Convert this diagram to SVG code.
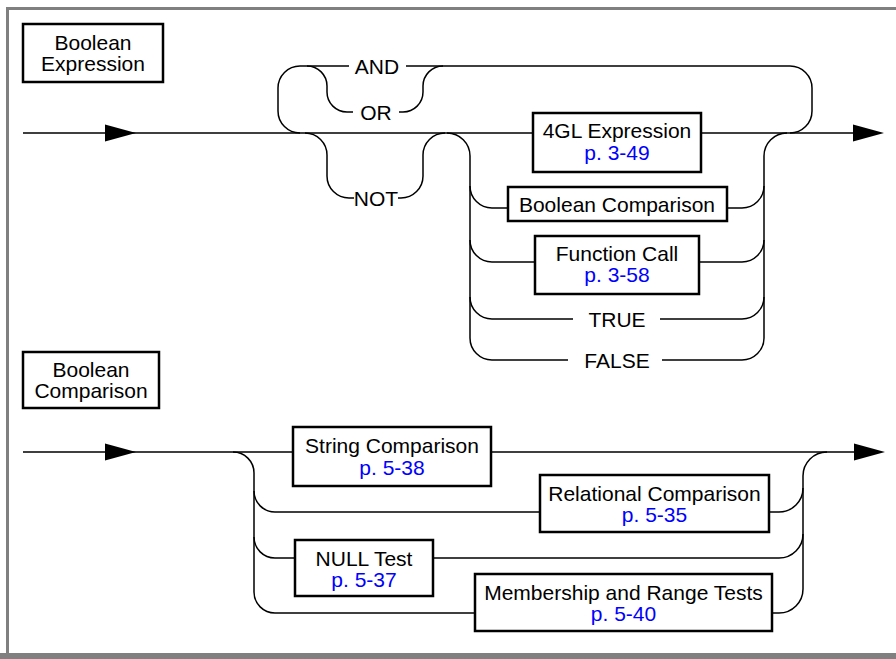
<svg xmlns="http://www.w3.org/2000/svg" width="896" height="659" viewBox="0 0 896 659">
  <style>
    .rail { fill: none; stroke: #000; stroke-width: 1.5; }
    .box { fill: #fff; stroke: #000; stroke-width: 2.5; }
    .t { font-family: "Liberation Sans", Arial, sans-serif; font-size: 21px; fill: #000; text-anchor: middle; }
    .ref { fill: #0000ff; }
    .frame { fill: none; stroke: #808080; stroke-width: 3; }
  </style>
  <defs>
    <path id="arrowhead" d="M 0 -8.5 L 31 0 L 0 8.5 Z" fill="#000"/>
  </defs>

  <!-- page frame -->
  <rect width="896" height="659" fill="#fff"/>
  <path class="frame" d="M 7.5 659 L 7.5 8.5 L 896 8.5"/>
  <rect x="0" y="653" width="896" height="6" fill="#808080"/>

  <!-- rails -->
  <g id="connectors">
    <!-- Boolean Expression: main line -->
    <path class="rail" d="M 23 133 L 533 133 M 701 133 L 856 133"/>
    <!-- AND / OR repetition loop -->
    <path class="rail" d="M 300 133 A 22 22 0 0 1 278 111 L 278 88 A 22 22 0 0 1 300 66 L 349 66"/>
    <path class="rail" d="M 406 66 L 790 66 A 22 22 0 0 1 812 88 L 812 111 A 22 22 0 0 1 790 133"/>
    <path class="rail" d="M 307 66 A 20 20 0 0 1 327 86 L 327 92 A 20 20 0 0 0 347 112 L 353 112"/>
    <path class="rail" d="M 399 112 L 403 112 A 20 20 0 0 0 423 92 L 423 86 A 20 20 0 0 1 443 66"/>
    <!-- NOT -->
    <path class="rail" d="M 305 133 A 22 22 0 0 1 327 155 L 327 176 A 22 22 0 0 0 349 198 L 354 198"/>
    <path class="rail" d="M 398 198 L 401 198 A 22 22 0 0 0 423 176 L 423 155 A 22 22 0 0 1 445 133"/>
    <!-- operand alternatives -->
    <path class="rail" d="M 447 133 A 23 23 0 0 1 470 156 L 470 338 A 22 22 0 0 0 492 360 L 568 360"/>
    <path class="rail" d="M 470 186 A 22 22 0 0 0 492 208 L 508 208"/>
    <path class="rail" d="M 470 240 A 22 22 0 0 0 492 262 L 535 262"/>
    <path class="rail" d="M 470 297 A 22 22 0 0 0 492 319 L 573 319"/>
    <path class="rail" d="M 787 133 A 23 23 0 0 0 764 156 L 764 338 A 22 22 0 0 1 742 360 L 662 360"/>
    <path class="rail" d="M 727 208 L 742 208 A 22 22 0 0 0 764 186"/>
    <path class="rail" d="M 699 262 L 742 262 A 22 22 0 0 0 764 240"/>
    <path class="rail" d="M 660 319 L 742 319 A 22 22 0 0 0 764 297"/>
    <use href="#arrowhead" x="105" y="133"/>
    <use href="#arrowhead" x="853" y="133"/>

    <!-- Boolean Comparison: main line -->
    <path class="rail" d="M 23 452 L 293 452 M 491 452 L 856 452"/>
    <path class="rail" d="M 233 452 A 21 21 0 0 1 254 473 L 254 592 A 21 21 0 0 0 275 613 L 475 613"/>
    <path class="rail" d="M 254 491 A 21 21 0 0 0 275 512 L 540 512"/>
    <path class="rail" d="M 254 537 A 21 21 0 0 0 275 558 L 295 558"/>
    <path class="rail" d="M 827 452 A 24 24 0 0 0 803 476 L 803 589 A 24 24 0 0 1 779 613 L 772 613"/>
    <path class="rail" d="M 769 512 L 779 512 A 24 24 0 0 0 803 488"/>
    <path class="rail" d="M 433 558 L 779 558 A 24 24 0 0 0 803 534"/>
    <use href="#arrowhead" x="105" y="452"/>
    <use href="#arrowhead" x="854" y="452"/>
  </g>

  <!-- diagram titles -->
  <g id="title-boolean-expression">
    <rect class="box" x="23" y="24" width="140" height="58"/>
    <text class="t" x="93" y="50">Boolean</text>
    <text class="t" x="93" y="71">Expression</text>
  </g>
  <g id="title-boolean-comparison">
    <rect class="box" x="23" y="352" width="136" height="56"/>
    <text class="t" x="91" y="377">Boolean</text>
    <text class="t" x="91" y="398">Comparison</text>
  </g>

  <!-- keywords -->
  <g id="kw-and"><text class="t" x="377" y="74">AND</text></g>
  <g id="kw-or"><text class="t" x="376" y="120">OR</text></g>
  <g id="kw-not"><text class="t" x="376" y="206">NOT</text></g>
  <g id="kw-true"><text class="t" x="617" y="327">TRUE</text></g>
  <g id="kw-false"><text class="t" x="617" y="368">FALSE</text></g>

  <!-- referenced constructs -->
  <g id="node-4gl-expression">
    <rect class="box" x="533" y="113" width="168" height="59"/>
    <text class="t" x="617" y="138">4GL Expression</text>
    <text class="t ref" x="617" y="160">p. 3-49</text>
  </g>
  <g id="node-boolean-comparison">
    <rect class="box" x="508" y="187" width="219" height="34"/>
    <text class="t" x="617" y="212">Boolean Comparison</text>
  </g>
  <g id="node-function-call">
    <rect class="box" x="535" y="236" width="164" height="58"/>
    <text class="t" x="617" y="261">Function Call</text>
    <text class="t ref" x="617" y="282">p. 3-58</text>
  </g>
  <g id="node-string-comparison">
    <rect class="box" x="293" y="427" width="198" height="59"/>
    <text class="t" x="392" y="453">String Comparison</text>
    <text class="t ref" x="392" y="475">p. 5-38</text>
  </g>
  <g id="node-relational-comparison">
    <rect class="box" x="540" y="475" width="229" height="57"/>
    <text class="t" x="654.5" y="501">Relational Comparison</text>
    <text class="t ref" x="654.5" y="522">p. 5-35</text>
  </g>
  <g id="node-null-test">
    <rect class="box" x="295" y="540" width="138" height="56"/>
    <text class="t" x="364" y="566">NULL Test</text>
    <text class="t ref" x="364" y="587">p. 5-37</text>
  </g>
  <g id="node-membership-range">
    <rect class="box" x="475" y="574" width="297" height="57"/>
    <text class="t" x="623.5" y="600">Membership and Range Tests</text>
    <text class="t ref" x="623.5" y="621">p. 5-40</text>
  </g>
</svg>
